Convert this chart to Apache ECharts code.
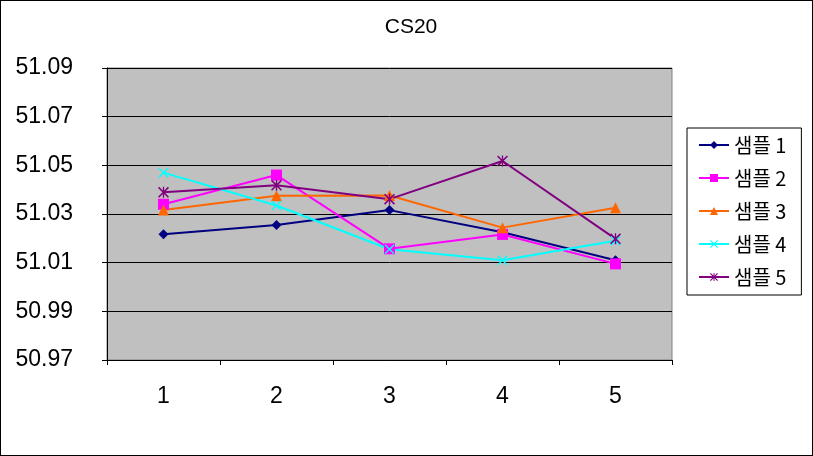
<!DOCTYPE html>
<html><head><meta charset="utf-8">
<script src="https://cdn.jsdelivr.net/npm/echarts@6/dist/echarts.min.js"></script>
<style>html,body{margin:0;padding:0;background:#fff}#c{width:813px;height:456px;box-sizing:border-box;border:1px solid #000}</style>
</head><body><div id="c"></div>
<script>
const categories = ['1','2','3','4','5'];
const seriesNames = ['샘플 1','샘플 2','샘플 3','샘플 4','샘플 5'];
const s1 = [51.0217, 51.0255, 51.0316, 51.0225, 51.0110];
const s2 = [51.0340, 51.0460, 51.0157, 51.0216, 51.0095];
const s3 = [51.0316, 51.0375, 51.0376, 51.0244, 51.0326];
const s4 = [51.0470, 51.0335, 51.0155, 51.0110, 51.0190];
const s5 = [51.0389, 51.0418, 51.0361, 51.0518, 51.0198];
const yTicks = {min: 50.97, max: 51.09, interval: 0.02};

const colors = ['#000080','#FF00FF','#FF6600','#00FFFF','#800080'];
const xPath = 'path://M0,1 L1,0 L10,9 L9,10 Z M9,0 L10,1 L1,10 L0,9 Z';
const starPath = 'path://M0,1 L1,0 L10,9 L9,10 Z M9,0 L10,1 L1,10 L0,9 Z M4.4,0 L5.6,0 L5.6,10 L4.4,10 Z';
const symbols = ['diamond','rect','triangle',xPath,starPath];
const sizes = [10,11,11,10,11];
const data = [s1,s2,s3,s4,s5];
const font = 'Liberation Sans, Arial, Noto Sans CJK KR, sans-serif';

const chart = echarts.init(document.getElementById('c'));
chart.setOption({
  animation:false,
  title:{text:'CS20', left:405, top:11, textAlign:'center',
    textStyle:{fontSize:21, fontWeight:'normal', color:'#000', fontFamily:font}},
  legend:{orient:'vertical', left:686, top:127, padding:[7,15,8,11],
    itemGap:13, itemWidth:30, itemHeight:10, borderColor:'#000', borderWidth:1,
    textStyle:{fontSize:20, lineHeight:20, color:'#000', fontFamily:'Noto Sans CJK KR, Liberation Sans, sans-serif'}, data:seriesNames},
  grid:{left:106, right:140, top:67, bottom:95, show:true, backgroundColor:'#C0C0C0',
    borderColor:'#808080', borderWidth:1},
  xAxis:{type:'category', data:categories, boundaryGap:true,
    axisLine:{lineStyle:{color:'#000'}}, axisTick:{show:true, length:5, lineStyle:{color:'#000'}},
    axisLabel:{fontSize:23, color:'#000', margin:25, fontFamily:font}},
  yAxis:{type:'value', min:yTicks.min, max:yTicks.max, interval:yTicks.interval,
    axisLine:{show:true, lineStyle:{color:'#000'}}, axisTick:{show:true, length:5, lineStyle:{color:'#000'}},
    splitLine:{lineStyle:{color:'#000', width:1}},
    axisLabel:{fontSize:23, color:'#000', margin:34, fontFamily:font,
      formatter:v=>v.toFixed(2)}},
  series:data.map((d,i)=>({
    name:seriesNames[i], type:'line', data:d, symbol:symbols[i], symbolSize:sizes[i],
    showAllSymbol:true,
    lineStyle:{color:colors[i], width:2}, itemStyle:{color:colors[i]}
  }))
});
</script></body></html>
